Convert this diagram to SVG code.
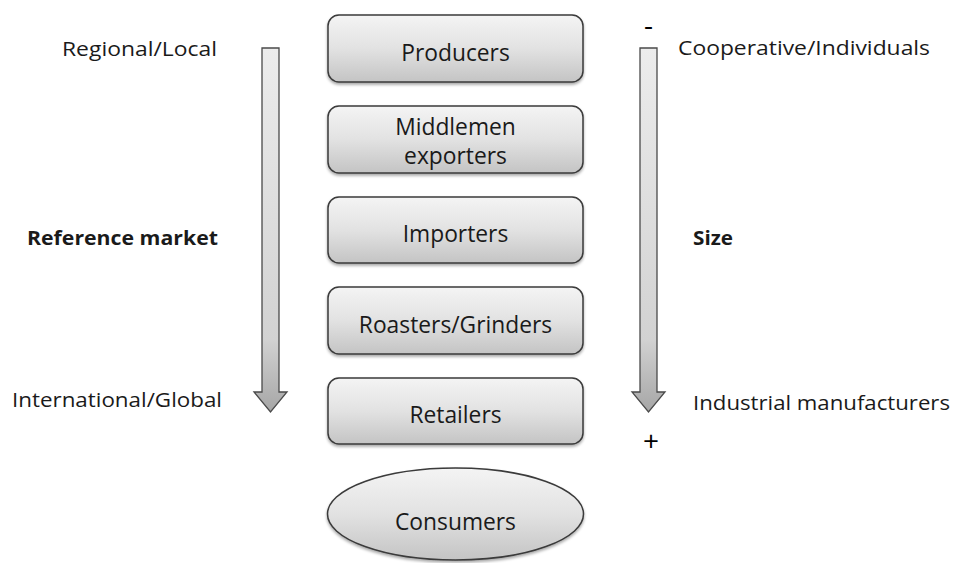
<svg xmlns="http://www.w3.org/2000/svg" width="954" height="563" viewBox="0 0 954 563">
<defs>
<linearGradient id="boxg" x1="0" y1="0" x2="0" y2="1">
<stop offset="0" stop-color="#f4f4f4"/>
<stop offset="0.5" stop-color="#e2e2e2"/>
<stop offset="1" stop-color="#c4c4c4"/>
</linearGradient>
<linearGradient id="arrg" x1="0" y1="0" x2="0" y2="1">
<stop offset="0" stop-color="#ececec"/>
<stop offset="0.8" stop-color="#d2d2d2"/>
<stop offset="1" stop-color="#a6a6a6"/>
</linearGradient>
<filter id="sh" x="-10%" y="-10%" width="120%" height="130%">
<feGaussianBlur in="SourceAlpha" stdDeviation="1.5"/>
<feOffset dx="0" dy="1.5"/>
<feComponentTransfer><feFuncA type="linear" slope="0.35"/></feComponentTransfer>
<feMerge><feMergeNode/><feMergeNode in="SourceGraphic"/></feMerge>
</filter>
</defs>
<style>
.box{fill:url(#boxg);stroke:#3a3a3a;stroke-width:1.5;filter:url(#sh)}
.arr{fill:url(#arrg);stroke:#4a4a4a;stroke-width:1.3}
.bt{font-family:"Open Sans","Noto Sans",sans-serif;font-size:22.8px;fill:#1a1a1a;text-anchor:middle}
.st{font-family:"Open Sans","Noto Sans",sans-serif;font-size:19.5px;fill:#1a1a1a}
.sb{font-weight:bold}
.sym{font-family:"Open Sans","Noto Sans",sans-serif;font-size:28px;fill:#000;text-anchor:middle}
</style>
<rect width="954" height="563" fill="#ffffff"/>
<g id="scales">
<path class="arr" d="M262,48 H279 V392 H287 L270.5,412 L254,392 H262 Z"/>
<path class="arr" d="M640,48 H657 V392 H665 L648.5,412 L632,392 H640 Z"/>
</g>
<g id="producers"><rect class="box" x="328" y="15" width="255" height="67" rx="11"/><text class="bt" x="455.5" y="61">Producers</text></g>
<g id="middlemen"><rect class="box" x="328" y="106" width="255" height="67" rx="11"/><text class="bt" x="455.5" y="135">Middlemen</text><text class="bt" x="455.5" y="164">exporters</text></g>
<g id="importers"><rect class="box" x="328" y="197" width="255" height="66" rx="11"/><text class="bt" x="455.5" y="242">Importers</text></g>
<g id="roasters"><rect class="box" x="328" y="287" width="255" height="67" rx="11"/><text class="bt" x="455.5" y="333">Roasters/Grinders</text></g>
<g id="retailers"><rect class="box" x="328" y="378" width="255" height="66" rx="11"/><text class="bt" x="455.5" y="423">Retailers</text></g>
<g id="consumers"><ellipse class="box" cx="455.5" cy="514" rx="128" ry="46"/><text class="bt" x="455.5" y="530">Consumers</text></g>
<g id="labels">
<text class="st" x="62" y="56" textLength="155" lengthAdjust="spacingAndGlyphs">Regional/Local</text>
<text class="st sb" x="27" y="245" textLength="191" lengthAdjust="spacingAndGlyphs">Reference market</text>
<text class="st" x="12" y="407" textLength="210" lengthAdjust="spacingAndGlyphs">International/Global</text>
<text class="st" x="678" y="55" textLength="252" lengthAdjust="spacingAndGlyphs">Cooperative/Individuals</text>
<text class="st sb" x="693" y="245" textLength="40" lengthAdjust="spacingAndGlyphs">Size</text>
<text class="st" x="693" y="410" textLength="257" lengthAdjust="spacingAndGlyphs">Industrial manufacturers</text>
<text class="sym" x="648.5" y="35">-</text>
<text class="sym" x="651" y="451">+</text>
</g>
</svg>
